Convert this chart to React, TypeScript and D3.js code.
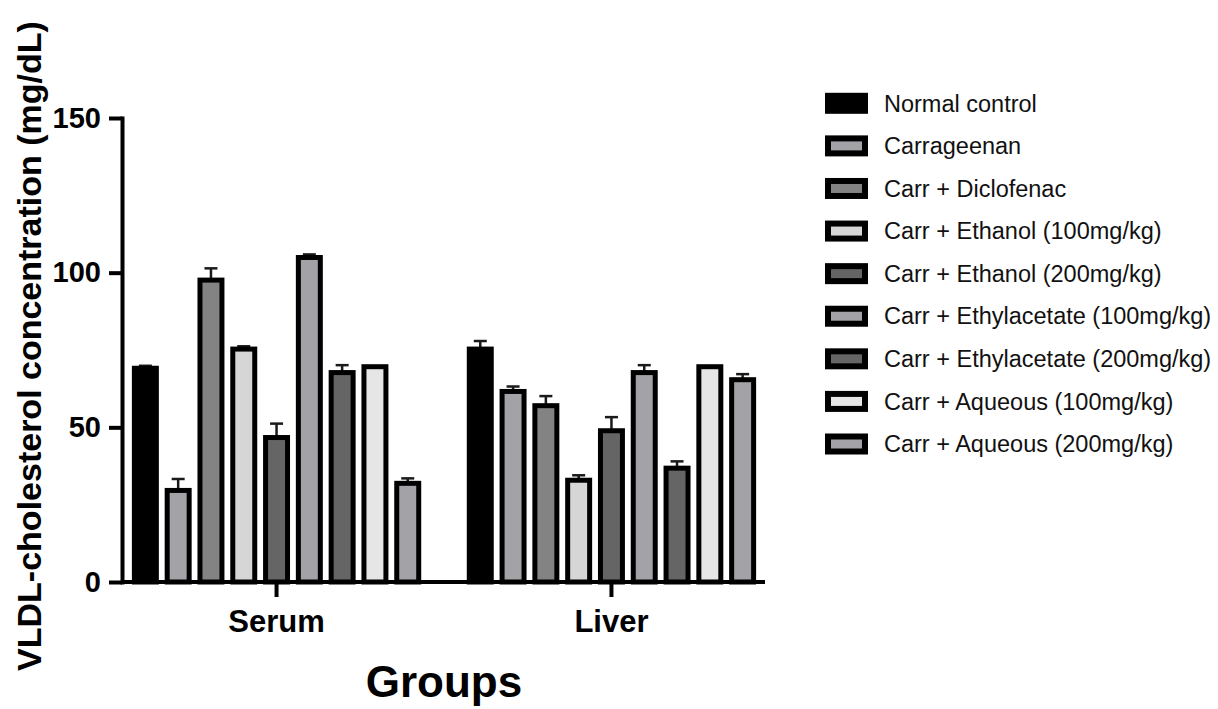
import { useRef, useEffect } from "react";
import * as d3 from "d3";

// groups on the x axis
const groups = ["Serum", "Liver"];

// treatments, in legend order
const treatments = [
  "Normal control",
  "Carrageenan",
  "Carr + Diclofenac",
  "Carr + Ethanol (100mg/kg)",
  "Carr + Ethanol (200mg/kg)",
  "Carr + Ethylacetate (100mg/kg)",
  "Carr + Ethylacetate (200mg/kg)",
  "Carr + Aqueous (100mg/kg)",
  "Carr + Aqueous (200mg/kg)",
];

const fills = ["#000000", "#a2a2a7", "#838383", "#d6d6d6", "#656565", "#a2a2a7", "#656565", "#e6e6e6", "#a2a2a7"];

// means (mg/dL), one per treatment
const serumMean = [69.1, 29.6, 97.6, 75.3, 46.7, 104.9, 67.7, 69.6, 31.9];
const liverMean = [75.3, 61.6, 57.0, 32.9, 48.9, 67.7, 36.8, 69.6, 65.4];

// SEM, upper whisker only
const serumSem = [0.8, 3.7, 3.8, 0.9, 4.5, 1.0, 2.4, 0, 1.6];
const liverSem = [2.6, 1.6, 3.1, 1.6, 4.4, 2.4, 2.2, 0, 1.8];

const yTicks = [0, 50, 100, 150];

export default function App() {
  const svgRef = useRef(null);
  const W = 1218;
  const H = 709;

  useEffect(() => {
    const svg = d3.select(svgRef.current);
    svg.selectAll("*").remove();

    const font = "'Liberation Sans', Arial, sans-serif";
    const axisX = 122;
    const axisY = 582;

    const y = d3.scaleLinear().domain([0, 150]).range([axisY, 118]);
    const x0 = d3.scaleBand().domain(groups).range([axisX + 1, 765]).paddingInner(0.151).paddingOuter(0.034);
    const x1 = d3.scaleBand().domain(treatments).range([0, x0.bandwidth()]).paddingInner(0.33);

    const rows = groups.flatMap((g, gi) =>
      treatments.map((t, i) => ({
        group: g,
        name: t,
        idx: i,
        mean: gi == 0 ? serumMean[i] : liverMean[i],
        sem: gi == 0 ? serumSem[i] : liverSem[i],
      }))
    );

    const plot = svg.append("g");

    // error bars (drawn first so the bar outline sits over the stem base)
    const err = plot.append("g").attr("stroke", "#1a1a1a").attr("stroke-width", 2.5);
    rows.filter((d) => d.sem > 0).forEach((d) => {
      const cx = (x0(d.group) as number) + (x1(d.name) as number) + x1.bandwidth() / 2;
      err.append("line")
        .attr("x1", cx).attr("x2", cx)
        .attr("y1", y(d.mean)).attr("y2", y(d.mean + d.sem));
      err.append("line")
        .attr("x1", cx - 6.5).attr("x2", cx + 6.5)
        .attr("y1", y(d.mean + d.sem)).attr("y2", y(d.mean + d.sem));
    });

    plot.append("g")
      .selectAll("rect")
      .data(rows)
      .join("rect")
      .attr("x", (d) => (x0(d.group) as number) + (x1(d.name) as number))
      .attr("y", (d) => y(d.mean))
      .attr("width", x1.bandwidth())
      .attr("height", (d) => axisY - y(d.mean))
      .attr("fill", (d) => fills[d.idx])
      .attr("stroke", "#000")
      .attr("stroke-width", 5);

    // y axis
    const yAx = svg.append("g")
      .attr("transform", `translate(${axisX},0)`)
      .call(d3.axisLeft(y).tickValues(yTicks).tickSize(13).tickSizeOuter(0).tickPadding(8));
    yAx.select(".domain").attr("stroke-width", 4).attr("stroke-linecap", "square");
    yAx.selectAll(".tick line").attr("stroke-width", 4);
    yAx.selectAll(".tick text")
      .attr("font-family", font).attr("font-weight", "bold").attr("font-size", 29).attr("fill", "#000");

    // x axis
    const xAx = svg.append("g")
      .attr("transform", `translate(0,${axisY})`)
      .call(d3.axisBottom(x0).tickSize(15).tickSizeOuter(0));
    xAx.select(".domain").attr("stroke-width", 4).attr("d", `M${axisX},0H765`);
    xAx.selectAll(".tick line").attr("stroke-width", 4);
    xAx.selectAll(".tick text")
      .attr("y", 50).attr("dy", null)
      .attr("font-family", font).attr("font-weight", "bold").attr("font-size", 31).attr("fill", "#000");

    // axis titles
    svg.append("text")
      .attr("transform", "rotate(-90)")
      .attr("x", -346).attr("y", 41)
      .attr("text-anchor", "middle")
      .attr("font-family", font).attr("font-weight", "bold").attr("font-size", 34)
      .text("VLDL-cholesterol concentration (mg/dL)");

    svg.append("text")
      .attr("x", 444).attr("y", 697)
      .attr("text-anchor", "middle")
      .attr("font-family", font).attr("font-weight", "bold").attr("font-size", 44)
      .text("Groups");

    // legend
    const ly = d3.scalePoint().domain(treatments).range([103.3, 444]);
    const leg = svg.append("g");
    const item = leg.selectAll("g").data(treatments).join("g")
      .attr("transform", (d) => `translate(0,${ly(d)})`);
    item.append("rect")
      .attr("x", 828).attr("y", -7.5).attr("width", 37).attr("height", 15)
      .attr("fill", (d, i) => fills[i])
      .attr("stroke", "#000").attr("stroke-width", 6);
    item.append("text")
      .attr("x", 884).attr("dy", "0.35em")
      .attr("font-family", font).attr("font-size", 23.5).attr("fill", "#111")
      .text((d) => d);
  }, []);

  return (
    <svg
      ref={svgRef}
      width={W}
      height={H}
      style={{ position: "absolute", left: 0, top: 0, background: "#fff" }}
    ></svg>
  );
}
